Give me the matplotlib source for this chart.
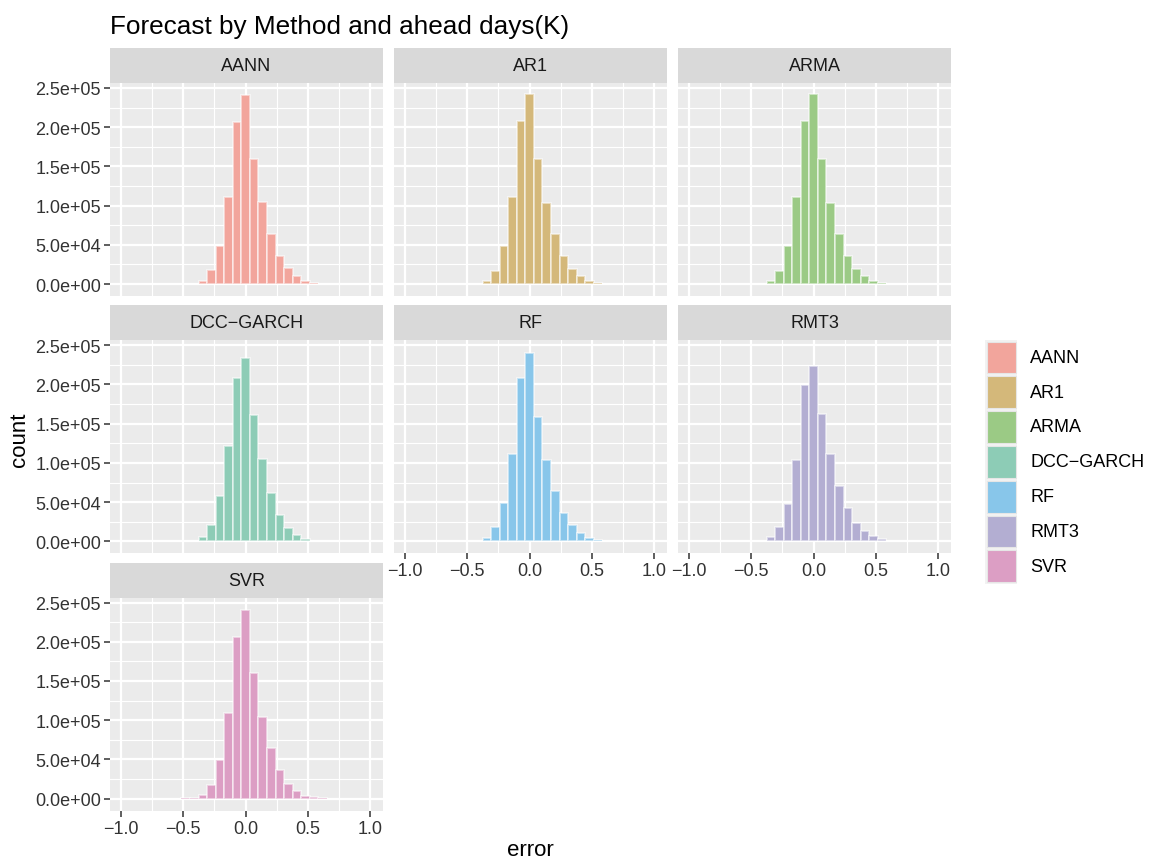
import numpy as np
import matplotlib.pyplot as plt
from matplotlib.patches import Rectangle

plt.rcParams['font.family'] = ['Liberation Sans', 'DejaVu Sans']

# data: histogram counts per method (bins of width ~0.0688, k = -14..13)
methods = ['AANN', 'AR1', 'ARMA', 'DCC\u2212GARCH', 'RF', 'RMT3', 'SVR']
colors = ['#F2A59C', '#D4B87A', '#9BCA85', '#8DCCB6', '#88C6EA', '#B3AED2', '#DC9EC4']
bin_width = 0.0688
bin_k = np.arange(-14, 14)
bin_centers = bin_k * bin_width + 0.001

left_tail = [10, 15, 20, 30, 50, 80, 150, 300, 700]   # k = -14..-6
right_tail = [300, 120, 50, 20, 10]                     # k = 9..13

aann = [3800, 17400, 49000, 110600, 207000, 241000, 159000, 104000, 64000, 36000, 20000, 10000, 3800, 1300]
ar1 = [3800, 16500, 48300, 110600, 208500, 242800, 159700, 103800, 64000, 36000, 19000, 9700, 4200, 1300]
arma = [3800, 16500, 48700, 110600, 208500, 242800, 159700, 103800, 64000, 35600, 19000, 9700, 3800, 900]
dcc = [5500, 21500, 57200, 121200, 208300, 233200, 161200, 104800, 61900, 34100, 16800, 7600, 2500, 800]
rf = [4600, 17700, 49200, 111100, 207900, 240700, 158700, 103500, 64400, 36600, 20600, 10500, 4600, 2100]
rmt3 = [5900, 18500, 47100, 103500, 199500, 223900, 162000, 111900, 70700, 42500, 24000, 12600, 6300, 2500]
svr = [4200, 17300, 49000, 109400, 206500, 240700, 160500, 104300, 64200, 36700, 19000, 9700, 3800, 1700]
core_counts = [aann, ar1, arma, dcc, rf, rmt3, svr]

y_ticks = [0, 5e4, 1e5, 1.5e5, 2e5, 2.5e5]
y_labels = ['0.0e+00', '5.0e+04', '1.0e+05', '1.5e+05', '2.0e+05', '2.5e+05']
x_ticks = [-1.0, -0.5, 0.0, 0.5, 1.0]
x_labels = ['\u22121.0', '\u22120.5', '0.0', '0.5', '1.0']

W, H = 1153, 862
fig = plt.figure(figsize=(W / 100, H / 100), dpi=100)


def box(x, y, w, h):
    return [x / W, 1 - (y + h) / H, w / W, h / H]


panel_bg = '#EBEBEB'
strip_bg = '#D9D9D9'
tick_col = '#333333'

for i, (m, col, core) in enumerate(zip(methods, colors, core_counts)):
    r, c = divmod(i, 3)
    px = 110 + c * 284
    py = 49 + r * 257.3
    # strip
    sax = fig.add_axes(box(px, py, 273, 35))
    sax.set_facecolor(strip_bg)
    sax.set_xticks([]); sax.set_yticks([])
    for s in sax.spines.values():
        s.set_visible(False)
    sax.text(0.5, 0.5, m, ha='center', va='center', fontsize=13, color='#1A1A1A',
             transform=sax.transAxes)
    # panel
    ax = fig.add_axes(box(px, py + 35, 273, 213))
    ax.set_facecolor(panel_bg)
    counts = left_tail + core + right_tail
    ax.bar(bin_centers, counts, width=bin_width, color=col,
           edgecolor=(1, 1, 1, 0.55), linewidth=1.3, zorder=3)
    ax.set_xlim(-1.088, 1.104)
    ax.set_ylim(-15200, 256300)
    ax.set_xticks(x_ticks)
    ax.set_xticks([-0.75, -0.25, 0.25, 0.75], minor=True)
    ax.set_yticks(y_ticks)
    ax.set_yticks(np.arange(2.5e4, 2.5e5, 5e4), minor=True)
    ax.grid(which='major', color='white', linewidth=1.6, zorder=0)
    ax.grid(which='minor', color='white', linewidth=0.8, zorder=0)
    ax.set_axisbelow(True)
    for s in ax.spines.values():
        s.set_visible(False)
    ax.tick_params(which='minor', length=0)
    ax.tick_params(which='major', length=4.5, width=1.1, color='#333333',
                   labelsize=13, labelcolor=tick_col, pad=2)
    if c == 0:
        ax.set_yticklabels(y_labels)
    else:
        ax.tick_params(axis='y', which='major', length=0, labelleft=False)
    bottom = (i >= 4)
    if bottom:
        ax.set_xticklabels(x_labels)
    else:
        ax.tick_params(axis='x', which='major', length=0, labelbottom=False)

fig.text(110 / W, 1 - 27 / H, 'Forecast by Method and ahead days(K)', fontsize=18.8,
         ha='left', va='center', color='black')
fig.text(530 / W, 1 - 851 / H, 'error', fontsize=16, ha='center', va='center')
fig.text(19 / W, 1 - 440 / H, 'count', fontsize=16, ha='center', va='center', rotation=90)

# legend
lax = fig.add_axes([0, 0, 1, 1])
lax.set_xlim(0, W); lax.set_ylim(H, 0)
lax.axis('off')
for j, (m, col) in enumerate(zip(methods, colors)):
    ky = 341 + j * 34.8
    lax.add_patch(Rectangle((985, ky), 32, 34.8, facecolor='#F2F2F2', edgecolor='none'))
    lax.add_patch(Rectangle((986.5, ky + 1.5), 29, 31.8, facecolor=col,
                            edgecolor='#E6E6E6', linewidth=0.8))
    lax.text(1030, ky + 17.4, m, fontsize=13, ha='left', va='center', color='black')

fig.savefig('out.png', dpi=100)
